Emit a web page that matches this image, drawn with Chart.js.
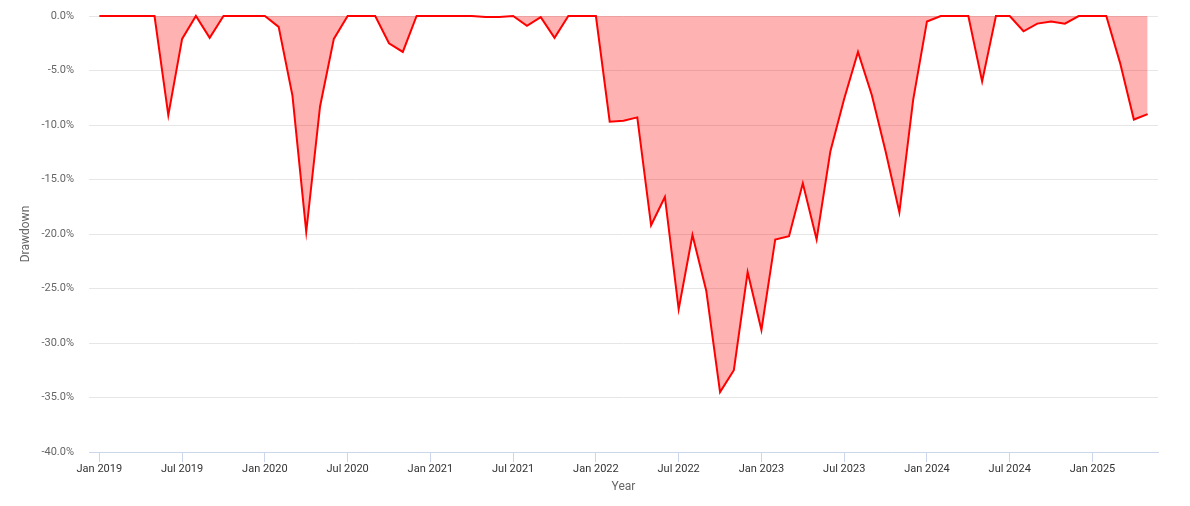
<!DOCTYPE html>
<html>
<head>
<meta charset="utf-8">
<script src="https://cdn.jsdelivr.net/npm/chart.js@4"></script>
<style>
  body { margin: 0; background: #fff; }
  #wrap { width: 1190px; height: 506px; }
</style>
</head>
<body>
<div id="wrap"><canvas id="ddChart" width="1190" height="506"></canvas></div>
<script>
// monthly drawdown in percent, Jan 2019 .. May 2025 (one value per month)
var drawdown = [
    0, 0, 0, 0, 0, -9.1, -2.1, 0, -2.0, 0, 0, 0,              // 2019
    0, -1.0, -7.3, -19.8, -8.3, -2.1, 0, 0, 0, -2.5, -3.3, 0,  // 2020
    0, 0, 0, 0, -0.1, -0.1, 0, -0.9, -0.1, -2.0, 0, 0,         // 2021
    0, -9.7, -9.6, -9.3, -19.2, -16.6, -26.9, -20.1, -25.2, -34.5, -32.5, -23.5, // 2022
    -28.8, -20.5, -20.2, -15.35, -20.5, -12.4, -7.6, -3.3, -7.25, -12.4, -18.0, -7.7, // 2023
    -0.5, 0, 0, 0, -6.0, 0, 0, -1.4, -0.7, -0.5, -0.7, 0,      // 2024
    0, 0, -4.3, -9.5, -9.0                                     // 2025
]

// x tick labels, one every 6 months starting at month 0 (Jan 2019)
var xTickLabels = ["Jan 2019", "Jul 2019", "Jan 2020", "Jul 2020", "Jan 2021", "Jul 2021",
    "Jan 2022", "Jul 2022", "Jan 2023", "Jul 2023", "Jan 2024", "Jul 2024", "Jan 2025"]

var yTicks = [0, -5, -10, -15, -20, -25, -30, -35, -40]

var points = drawdown.map(function (v, i) { return { x: i, y: v } })

var fontFamily = "Roboto, 'Liberation Sans', Arial, sans-serif"

new Chart("ddChart", {
    type: "line",
    data: {
        datasets: [{
            label: "Drawdown",
            data: points,
            borderColor: "#ff0000",
            borderWidth: 2,
            backgroundColor: "rgba(255, 0, 0, 0.3)",
            fill: "origin",
            pointRadius: 0,
            tension: 0,
            clip: false
        }]
    },
    options: {
        responsive: false,
        animation: false,
        devicePixelRatio: 1,
        layout: {
            padding: { top: 16, right: 32, left: 0, bottom: 0 }
        },
        plugins: {
            legend: { display: false },
            tooltip: { enabled: false }
        },
        scales: {
            x: {
                type: "linear",
                min: -0.75,
                max: 76.75,
                afterFit: function (axis) {
                    axis.height = 54
                    axis.paddingLeft = 0
                    axis.paddingRight = 0
                },
                ticks: {
                    stepSize: 6,
                    includeBounds: false,
                    maxRotation: 0,
                    autoSkip: false,
                    padding: 1,
                    color: "#333333",
                    font: { family: fontFamily, size: 11 },
                    callback: function (value) {
                        var k = value / 6
                        return xTickLabels[k] !== undefined ? xTickLabels[k] : ""
                    }
                },
                grid: {
                    drawOnChartArea: false,
                    drawTicks: true,
                    tickLength: 10,
                    color: "#ccd6eb"
                },
                border: { display: true, color: "#ccd6eb", width: 1 },
                title: {
                    display: true,
                    text: "Year",
                    color: "#666666",
                    font: { family: fontFamily, size: 12 },
                    padding: { top: 0, bottom: 12 }
                }
            },
            y: {
                min: -40,
                max: 0,
                afterFit: function (axis) {
                    // fixed width and no extra top/bottom room from tick labels
                    axis.width = 89
                    axis.paddingTop = 0
                    axis.paddingBottom = 0
                },
                afterBuildTicks: function (axis) {
                    axis.ticks = yTicks.map(function (v) { return { value: v } })
                },
                ticks: {
                    padding: 15,
                    color: "#666666",
                    font: { family: fontFamily, size: 11 },
                    callback: function (value) { return value.toFixed(1) + "%" }
                },
                grid: {
                    color: "#e6e6e6",
                    drawTicks: false
                },
                border: { display: false },
                title: {
                    display: true,
                    text: "Drawdown",
                    color: "#666666",
                    font: { family: fontFamily, size: 12 },
                    padding: { top: 19, bottom: 0 }
                }
            }
        }
    }
})
</script>
</body>
</html>
